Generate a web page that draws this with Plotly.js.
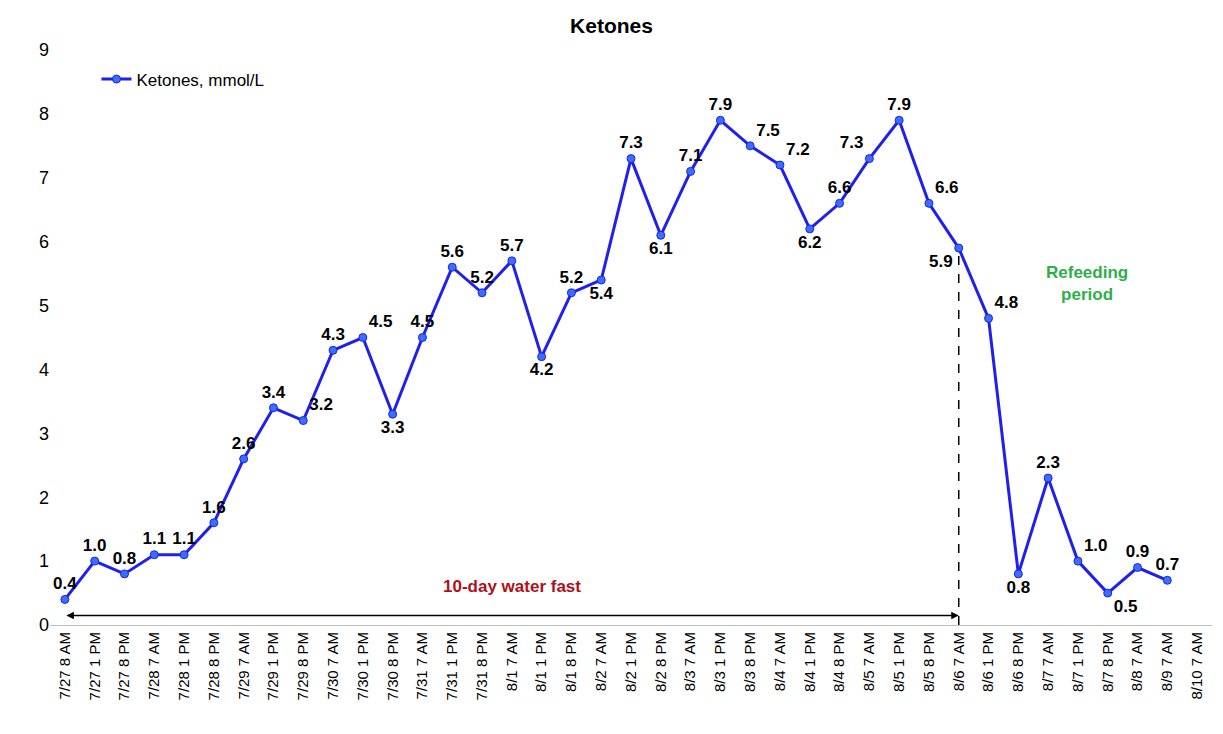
<!DOCTYPE html>
<html><head><meta charset="utf-8">
<script src="https://cdn.plot.ly/plotly-3.0.1.min.js"></script>
<style>body{margin:0;background:#fff}#graph{width:1223px;height:734px}</style>
</head><body><div id="graph"></div>
<script>
var times = ["7/27 8 AM","7/27 1 PM","7/27 8 PM","7/28 7 AM","7/28 1 PM","7/28 8 PM","7/29 7 AM","7/29 1 PM","7/29 8 PM","7/30 7 AM","7/30 1 PM","7/30 8 PM","7/31 7 AM","7/31 1 PM","7/31 8 PM","8/1 7 AM","8/1 1 PM","8/1 8 PM","8/2 7 AM","8/2 1 PM","8/2 8 PM","8/3 7 AM","8/3 1 PM","8/3 8 PM","8/4 7 AM","8/4 1 PM","8/4 8 PM","8/5 7 AM","8/5 1 PM","8/5 8 PM","8/6 7 AM","8/6 1 PM","8/6 8 PM","8/7 7 AM","8/7 1 PM","8/7 8 PM","8/8 7 AM","8/9 7 AM","8/10 7 AM"];
var ketones = [0.4,1.0,0.8,1.1,1.1,1.6,2.6,3.4,3.2,4.3,4.5,3.3,4.5,5.6,5.2,5.7,4.2,5.2,5.4,7.3,6.1,7.1,7.9,7.5,7.2,6.2,6.6,7.3,7.9,6.6,5.9,4.8,0.8,2.3,1.0,0.5,0.9,0.7];
var labelPos = ["top center","top center","top center","top center","top center","top center","top center","top center","top right","top center","top right","bottom center","top center","top center","top center","top center","bottom center","top center","bottom center","top center","bottom center","top center","top center","top right","top right","bottom center","top center","top left","top center","top right","bottom left","top right","bottom center","top center","top right","bottom right","top center","top center"];

var idx = times.map(function(t, i){ return i; });
var trace = {
  x: idx.slice(0, ketones.length), y: ketones, type: 'scatter', mode: 'lines+markers+text',
  name: 'Ketones, mmol/L',
  line: {color: '#1f1ff0', width: 3},
  marker: {color: '#3a6ff7', size: 8, line: {color: '#1f1ff0', width: 1}},
  text: ketones.map(function(v){ return '<b>' + v.toFixed(1) + '</b>'; }),
  textposition: labelPos,
  textfont: {family: 'Liberation Sans, Arial', size: 17, color: '#000'},
  cliponaxis: false
};
var layout = {
  width: 1223, height: 734,
  margin: {l: 50, r: 11, t: 50, b: 109},
  title: {text: '<b>Ketones</b>', x: 0.5, y: 0.975, font: {family: 'Liberation Sans, Arial', size: 21, color: '#000'}},
  font: {family: 'Liberation Sans, Arial', color: '#000'},
  showlegend: true,
  legend: {x: 0.04, y: 0.98, font: {size: 17}, bgcolor: 'rgba(0,0,0,0)'},
  xaxis: {range: [-0.5, 38.5], tickmode: 'array', tickvals: idx, ticktext: times, tickangle: -90,
    tickfont: {size: 15}, showgrid: false, zeroline: false, showline: true, linecolor: '#bfbfbf',
    ticks: 'outside', ticklen: 0},
  yaxis: {range: [0, 9], dtick: 1, tickfont: {size: 18}, showgrid: false, zeroline: false, showline: false},
  shapes: [
    {type: 'line', x0: 30, x1: 30, y0: 0, y1: 5.9, line: {color: '#000', width: 1.5, dash: 'dash'}}
  ],
  annotations: [
    {x: 30, y: 0.15, ax: 0, ay: 0.15, axref: 'x', ayref: 'y', showarrow: true, arrowhead: 2, arrowside: 'end+start',
     arrowwidth: 1.5, arrowcolor: '#000', text: ''},
    {x: 15, y: 0.6, text: '<b>10-day water fast</b>', showarrow: false, font: {size: 17, color: '#b0101a'}},
    {x: 34.3, y: 5.35, text: '<b>Refeeding<br>period</b>', showarrow: false, font: {size: 17, color: '#2fae4a'}}
  ],
  plot_bgcolor: '#fff', paper_bgcolor: '#fff'
};
Plotly.newPlot('graph', [trace], layout, {displayModeBar: false});
</script></body></html>
